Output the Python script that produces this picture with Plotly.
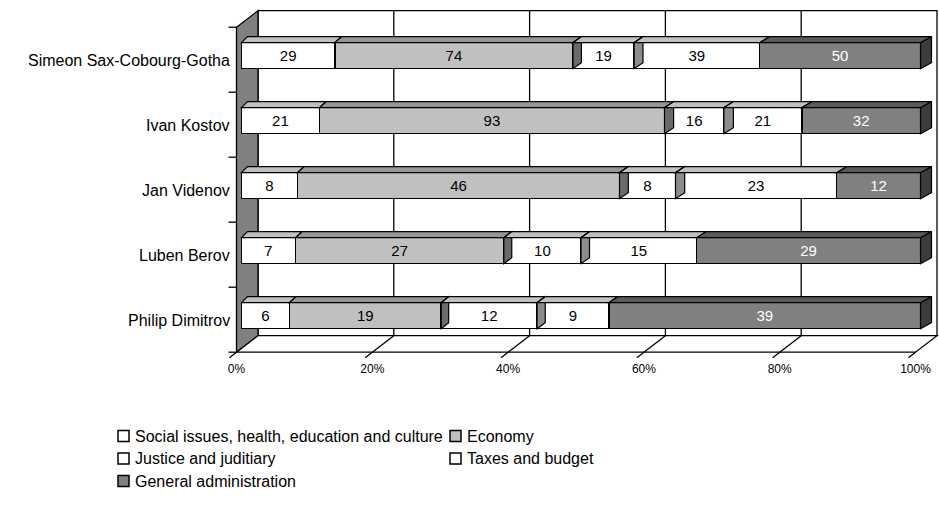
import plotly.graph_objects as go

# ---------------- data ----------------
categories = ["Philip Dimitrov", "Luben Berov", "Jan Videnov", "Ivan Kostov",
              "Simeon Sax-Cobourg-Gotha"]
series_names = ["Social issues, health, education and culture", "Economy",
                "Justice and juditiary", "Taxes and budget", "General administration"]
social = [6, 7, 8, 21, 29]
economy = [19, 27, 46, 93, 74]
justice = [12, 10, 8, 16, 19]
taxes = [9, 15, 23, 21, 39]
general = [39, 29, 12, 32, 50]
x_tick_values = [0, 20, 40, 60, 80, 100]
x_tick_labels = ["0%", "20%", "40%", "60%", "80%", "100%"]

series_values = [social, economy, justice, taxes, general]

# ---------------- styles ----------------
front_colors = ["#FFFFFF", "#C0C0C0", "#FFFFFF", "#FFFFFF", "#808080"]
top_colors = ["#C0C0C0", "#969696", "#C0C0C0", "#C0C0C0", "#5A5A5A"]
side_colors = ["#8C8C8C", "#6A6A6A", "#8C8C8C", "#8C8C8C", "#3C3C3C"]
show_side = [False, True, True, False, True]
text_colors = ["black", "black", "black", "black", "white"]
FONT = "Arial, Liberation Sans, sans-serif"

W, H = 939, 506
SX = 6.79      # px per percent on the bar plane
SY = 65.0      # px per category step
X0PX = 241.5   # px position of 0 % on the bar plane
Y0PX = 315.7   # px position of first category centre
BAR_W = 0.4

xr = [(0 - X0PX) / SX, (W - X0PX) / SX]
yr = [(Y0PX - H) / SY, Y0PX / SY]


def P(p, v, dxpx=0.0, dypx=0.0):
    return (p + dxpx / SX, v - dypx / SY)


def plane(p, v, depth):
    # depth 0 = front plane of the 3-D box, 1 = back wall
    return P(p, v, -5 + 21.5 * depth, 4 - 16.5 * depth)


def path(points):
    return "M " + " L ".join(f"{x:.4f},{y:.4f}" for x, y in points) + " Z"


def bar_dx(p):
    return 6 + 5 * p / 100.0


shapes = []
LW = 1.3


def poly(points, fill, layer="below", lw=LW):
    shapes.append(dict(type="path", path=path(points), xref="x", yref="y",
                       fillcolor=fill, line=dict(color="black", width=lw), layer=layer))


def seg(p0, p1, layer="below", lw=LW):
    shapes.append(dict(type="line", x0=p0[0], y0=p0[1], x1=p1[0], y1=p1[1],
                       xref="x", yref="y", line=dict(color="black", width=lw), layer=layer))


n = len(categories)
lo, hi = -0.5, n - 0.5

# back wall
poly([plane(0, lo, 1), plane(100, lo, 1), plane(100, hi, 1), plane(0, hi, 1)], "white")
for p in x_tick_values[1:-1]:
    seg(plane(p, lo, 1), plane(p, hi, 1))
# left wall
poly([plane(0, lo, 0), plane(0, hi, 0), plane(0, hi, 1), plane(0, lo, 1)], "#808080")
# floor
poly([plane(0, lo, 0), plane(100, lo, 0), plane(100, lo, 1), plane(0, lo, 1)], "white")
for p in x_tick_values[1:-1]:
    seg(plane(p, lo, 0), plane(p, lo, 1))
# x ticks
for p in x_tick_values:
    seg(plane(p, lo, 0), plane(p, lo, -0.33))
# y ticks
for k in range(n + 1):
    a = plane(0, k - 0.5, 0)
    seg(a, (a[0] - 8 / SX, a[1]))

# 3-D faces of the bars
for i in range(n):
    total = sum(s[i] for s in series_values)
    cum = 0.0
    for j, s in enumerate(series_values):
        a = cum / total * 100
        cum += s[i]
        b = cum / total * 100
        yt = i + BAR_W / 2
        yb = i - BAR_W / 2
        top = [P(a, yt), P(b, yt), P(b, yt, bar_dx(b), -6), P(a, yt, bar_dx(a), -6)]
        poly(top, top_colors[j], layer="above", lw=1.2)
        if show_side[j]:
            side = [P(b, yt), P(b, yt, bar_dx(b), -6), P(b, yb, bar_dx(b), -6), P(b, yb)]
            poly(side, side_colors[j], layer="above", lw=1.2)

fig = go.Figure()
ypos = list(range(n))
for j, s in enumerate(series_values):
    fig.add_trace(go.Bar(
        y=ypos, x=s, orientation="h", name=series_names[j], width=BAR_W,
        marker=dict(color=front_colors[j], line=dict(color="black", width=1.5)),
        text=[str(v) for v in s], textposition="inside", insidetextanchor="middle",
        textangle=0, textfont=dict(family=FONT, size=15, color=text_colors[j]),
        hoverinfo="skip", showlegend=False))

# invisible trace carrying the tick-label axis
fig.add_trace(go.Scatter(x=[None], y=[None], xaxis="x2", showlegend=False, hoverinfo="skip"))

annotations = []
for i, c in enumerate(categories):
    annotations.append(dict(text=c, xref="paper", yref="y", x=232 / W, y=i, yshift=-5,
                            xanchor="right", yanchor="middle", showarrow=False,
                            font=dict(family=FONT, size=16, color="black")))

# legend (two columns, Excel style)
legend_cols = [118, 450]
legend_rows = [436, 458.5, 481]
BOX = 11
for j, name in enumerate(series_names):
    cx = legend_cols[j % 2]
    cy = legend_rows[j // 2]
    shapes.append(dict(type="rect", xref="paper", yref="paper",
                       x0=cx / W, x1=(cx + BOX) / W,
                       y0=1 - (cy + BOX / 2) / H, y1=1 - (cy - BOX / 2) / H,
                       fillcolor=front_colors[j], line=dict(color="black", width=1.5),
                       layer="above"))
    annotations.append(dict(text=name, xref="paper", yref="paper",
                            x=(cx + BOX + 4) / W, y=1 - cy / H,
                            xanchor="left", yanchor="middle", showarrow=False,
                            font=dict(family=FONT, size=16, color="black")))

fig.update_layout(
    width=W, height=H, autosize=False,
    margin=dict(l=0, r=0, t=0, b=0),
    paper_bgcolor="white", plot_bgcolor="white",
    barmode="stack", barnorm="percent",
    uniformtext=dict(minsize=15, mode="show"),
    shapes=shapes, annotations=annotations,
    xaxis=dict(range=xr, showgrid=False, zeroline=False, showticklabels=False,
               showline=False, fixedrange=True),
    xaxis2=dict(range=[xr[0] + 5 / SX, xr[1] + 5 / SX], overlaying="x", anchor="free",
                position=1 - 360 / H, side="bottom", tickvals=x_tick_values,
                ticktext=x_tick_labels, showgrid=False, zeroline=False, showline=False,
                ticks="", tickfont=dict(family=FONT, size=12, color="black")),
    yaxis=dict(range=yr, showgrid=False, zeroline=False, showticklabels=False,
               showline=False, fixedrange=True),
    showlegend=False,
)

fig.write_html("out.html")
